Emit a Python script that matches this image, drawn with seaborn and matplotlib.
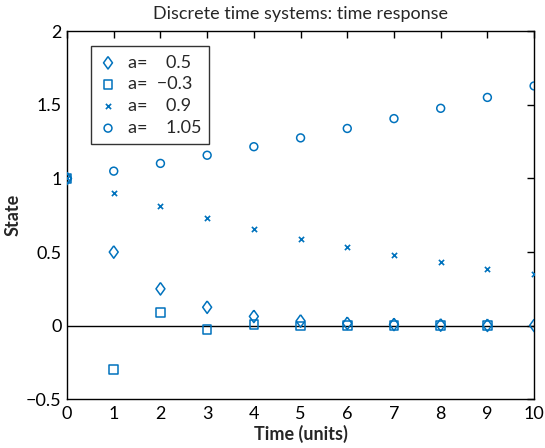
import matplotlib
matplotlib.use("Agg")
import matplotlib.pyplot as plt
import seaborn as sns
import pandas as pd

# Data
time_05 = [0, 1, 2, 3, 4, 5, 6, 7, 8, 9, 10]
state_05 = [1.0, 0.5, 0.25, 0.125, 0.0625, 0.03125, 0.0156, 0.0078, 0.0039, 0.0020, 0.0010]
time_m03 = [0, 1, 2, 3, 4, 5, 6, 7, 8, 9]
state_m03 = [1.0, -0.3, 0.09, -0.027, 0.0081, -0.0024, 0.0007, -0.0002, 0.0001, 0.0000]
time_09 = [0, 1, 2, 3, 4, 5, 6, 7, 8, 9, 10]
state_09 = [1.0, 0.9, 0.81, 0.729, 0.656, 0.590, 0.531, 0.478, 0.430, 0.387, 0.349]
time_105 = [0, 1, 2, 3, 4, 5, 6, 7, 8, 9, 10]
state_105 = [1.0, 1.05, 1.1025, 1.158, 1.216, 1.276, 1.340, 1.407, 1.477, 1.551, 1.629]
labels = ["a=    0.5", "a=  \u22120.3", "a=    0.9", "a=    1.05"]
x_ticks = [0, 1, 2, 3, 4, 5, 6, 7, 8, 9, 10]
y_ticks = [-0.5, 0, 0.5, 1, 1.5, 2]
y_tick_labels = ["\u22120.5", "0", "0.5", "1", "1.5", "2"]

sns.set_theme(style="white")
plt.rcParams["font.family"] = ["Lato", "DejaVu Sans"]
plt.rcParams["axes.unicode_minus"] = True

blue = "#0072BD"
fig = plt.figure(figsize=(5.45, 4.48), dpi=100)
ax = fig.add_axes([0.123, 0.109, 0.857, 0.821])

ax.axhline(0, color="black", linewidth=1.0, zorder=1)

diamond = [(0, 1), (0.72, 0), (0, -1), (-0.72, 0), (0, 1)]
series = [
    (time_05, state_05, diamond, 80, labels[0]),
    (time_m03, state_m03, "s", 38, labels[1]),
    (time_09, state_09, "x", 14, labels[2]),
    (time_105, state_105, "o", 32, labels[3]),
]
for t, s, m, size, lab in series:
    df = pd.DataFrame({"t": t, "s": s})
    if m == "x":
        sns.scatterplot(data=df, x="t", y="s", marker=m, s=size, color=blue,
                        linewidth=1.2, ax=ax, label=lab, zorder=3)
    else:
        sns.scatterplot(data=df, x="t", y="s", marker=m, s=size,
                        facecolor="none", edgecolor=blue, linewidth=1.1,
                        ax=ax, label=lab, zorder=3)

ax.set_xlim(0, 10)
ax.set_ylim(-0.5, 2)
ax.set_xticks(x_ticks)
ax.set_xticklabels([str(v) for v in x_ticks])
ax.set_yticks(y_ticks)
ax.set_yticklabels(y_tick_labels)
ax.tick_params(direction="in", length=5, width=1, top=True, right=True,
               labelsize=13, color="black", labelcolor="black")
ax.tick_params(axis="x", pad=5)
ax.tick_params(axis="y", pad=4)
for sp in ax.spines.values():
    sp.set_visible(True)
    sp.set_color("black")
    sp.set_linewidth(1.0)

ax.set_title("Discrete time systems: time response", fontsize=13, pad=9)
ax.set_xlabel("Time (units)", fontsize=13, fontweight="bold", labelpad=2)
ax.set_ylabel("State", fontsize=13, fontweight="bold", labelpad=3)

leg = ax.legend(loc="upper left", bbox_to_anchor=(0.051, 0.959), fontsize=13,
                frameon=True, fancybox=False, edgecolor="black",
                handlelength=1.0, handletextpad=0.6, borderpad=0.45,
                labelspacing=0.32, borderaxespad=0)
leg.get_frame().set_linewidth(1.0)

fig.savefig("out.png", dpi=100)
